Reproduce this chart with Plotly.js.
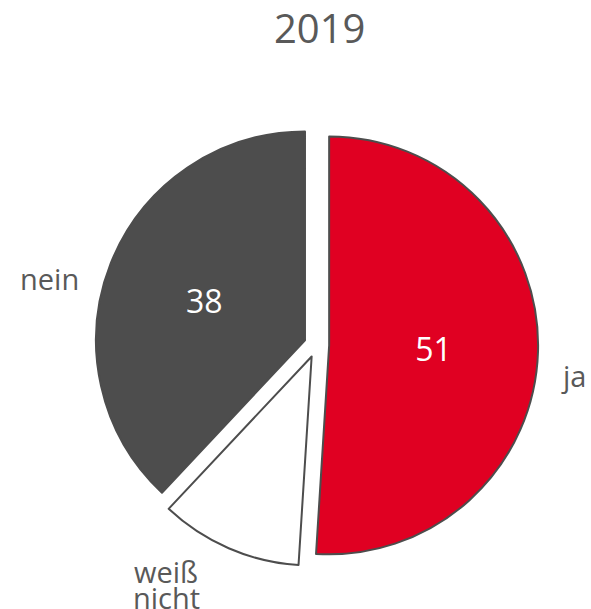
<!DOCTYPE html>
<html>
<head>
<meta charset="utf-8">
<script src="https://cdn.plot.ly/plotly-3.0.1.min.js"></script>
<style>html,body{margin:0;padding:0;background:#fff;}#chart{width:591px;height:609px;}</style>
</head>
<body>
<div id="chart"></div>
<script>
const categories = ['ja', 'weiß nicht', 'nein'];
const values = [51, 11, 38];
const valueText = ['51', '', '38'];
const colors = ['#e00022', '#ffffff', '#4d4d4d'];

// label anchor positions (paper fractions) for category labels, one per category
const labelX = [0.9704, 0.2810, 0.0838];
const labelY = [0.3834, 0.0616, 0.5427];
const lineGap = 0.0427;

const domain = {x: [0.161, 0.9105], y: [0.0698, 0.7972]};
const pull = [0.06, 0.06, 0.06];
const fontFam = 'Open Sans, Noto Sans, sans-serif';
const textGray = '#595959';

const traceSlices = {
  type: 'pie',
  labels: categories,
  values: values,
  sort: false,
  direction: 'clockwise',
  rotation: 0,
  pull: pull,
  domain: domain,
  hoverinfo: 'none',
  showlegend: false,
  marker: {colors: colors, line: {color: '#4d4d4d', width: 2}},
  text: valueText,
  textinfo: 'text',
  textposition: 'inside',
  insidetextorientation: 'horizontal',
  insidetextfont: {family: fontFam, size: 32, color: '#ffffff'}
};

const annotations = [];
categories.forEach((c, i) => {
  const lines = c.split(' ');
  lines.forEach((ln, k) => {
    annotations.push({
      text: ln,
      xref: 'paper', yref: 'paper',
      x: labelX[i], y: labelY[i] - k * lineGap,
      xanchor: 'center', yanchor: 'middle',
      showarrow: false,
      font: {family: fontFam, size: 29, color: textGray}
    });
  });
});

const layout = {
  width: 591,
  height: 609,
  margin: {l: 0, r: 0, t: 0, b: 0},
  paper_bgcolor: '#ffffff',
  title: {
    text: '2019',
    font: {family: fontFam, size: 40, color: textGray},
    x: 0.541, xanchor: 'center',
    y: 0.952, yanchor: 'middle'
  },
  annotations: annotations,
  showlegend: false
};

Plotly.newPlot('chart', [traceSlices], layout, {displayModeBar: false, staticPlot: true});
</script>
</body>
</html>
